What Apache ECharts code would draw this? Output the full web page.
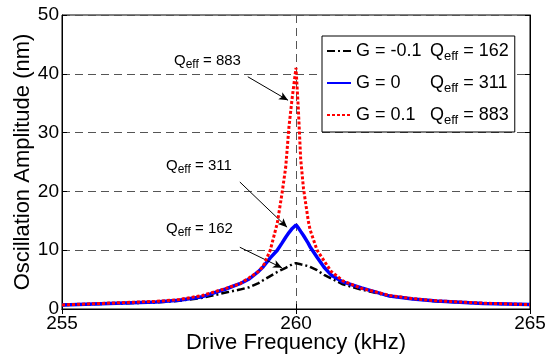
<!DOCTYPE html>
<html><head><meta charset="utf-8">
<script src="https://cdn.jsdelivr.net/npm/echarts@6/dist/echarts.min.js"></script>
<style>html,body{margin:0;padding:0;background:#fff}#c{width:546px;height:359px}</style>
</head><body><div id="c"></div>
<script>
const freq = [255, 256, 257, 257.5, 258, 258.5, 258.8, 259, 259.2, 259.3, 259.45, 259.6, 259.7, 259.78, 259.85, 259.92, 260, 260.05, 260.1, 260.16, 260.26, 260.3, 260.45, 260.6, 260.75, 261, 261.4, 262, 262.5, 263, 264, 265];
const ampNeg = [0.7, 0.9, 1.1, 1.4, 1.9, 2.8, 3.3, 3.7, 4.4, 4.9, 5.6, 6.3, 6.7, 7.0, 7.3, 7.6, 7.8, 7.7, 7.6, 7.5, 7.3, 7.2, 6.6, 5.8, 5.2, 4.2, 3.3, 2.2, 1.7, 1.3, 0.95, 0.75];
const ampZero = [0.7, 0.95, 1.2, 1.5, 2.1, 3.4, 4.3, 5.1, 6.4, 7.2, 8.7, 10.0, 11.2, 12.2, 13.0, 13.7, 14.3, 13.8, 13.2, 12.5, 11.2, 10.6, 8.8, 7.1, 5.8, 4.6, 3.6, 2.2, 1.7, 1.35, 0.95, 0.75];
const ampPos = [0.7, 1.0, 1.3, 1.6, 2.3, 3.5, 4.3, 5.3, 6.4, 7.3, 10.0, 14.6, 19.6, 24.1, 31, 36, 41, 34, 25.5, 20.5, 15.1, 13.5, 10.0, 8.2, 6.4, 4.8, 3.5, 2.3, 1.75, 1.4, 1.0, 0.75];
const seriesNames = ['G = -0.1', 'G = 0', 'G = 0.1'];
const qeff = ['162', '311', '883'];
const xTicks = [255, 260, 265];
const yTicks = [0, 10, 20, 30, 40, 50];
// annotation arrows in data coordinates: [start, end]
const arrows = [
  [[258.97, 39.5], [259.83, 35.5]],
  [[258.80, 21.6], [259.81, 13.9]],
  [[258.80, 10.5], [259.70, 7.0]]
];

const pair = a => freq.map((f, i) => [f, a[i]]);
const chart = echarts.init(document.getElementById('c'), null, {renderer: 'canvas'});
const FONT = 'Liberation Sans, Arial, sans-serif';
const richLeg = {
  g: {fontSize: 18, width: 74, fontFamily: FONT, color: '#000', lineHeight: 24},
  q: {fontSize: 18, fontFamily: FONT, color: '#000', lineHeight: 24},
  s: {fontSize: 13, fontFamily: FONT, color: '#000', lineHeight: 6, verticalAlign: 'bottom'},
  t: {fontSize: 18, fontFamily: FONT, color: '#000', lineHeight: 24}
};
const richAnn = {
  q: {fontSize: 15, fontFamily: FONT, color: '#000', lineHeight: 20},
  s: {fontSize: 12, fontFamily: FONT, color: '#000', lineHeight: 4, verticalAlign: 'bottom'},
  t: {fontSize: 15, fontFamily: FONT, color: '#000', lineHeight: 20}
};
const gridLine = {show: true, lineStyle: {color: '#555', type: [8, 5], width: 1}};
chart.setOption({
  animation: false,
  backgroundColor: '#fff',
  grid: {left: 62, top: 15, right: 16, bottom: 50, show: true, borderColor: '#000', borderWidth: 1,
    containLabel: false, outerBoundsMode: 'none'},
  legend: {
    orient: 'vertical', left: 322, top: 36,
    padding: [6, 6, 5, 4], itemGap: 11, itemWidth: 24, itemHeight: 14,
    borderColor: '#000', borderWidth: 1, backgroundColor: '#fff',
    itemStyle: {opacity: 0},
    data: seriesNames,
    formatter: function (name) {
      const i = seriesNames.indexOf(name);
      return '{g|' + name + '}{q|Q}{s|eff}{t| = ' + qeff[i] + '}';
    },
    textStyle: {rich: richLeg, padding: [0, 0, 0, 0]}
  },
  xAxis: [{
    type: 'value', min: 255, max: 265, interval: 5,
    name: 'Drive Frequency (kHz)', nameLocation: 'middle', nameGap: 23, nameMoveOverlap: false,
    nameTextStyle: {fontSize: 22, fontFamily: FONT, color: '#000'},
    axisLine: {show: true, lineStyle: {color: '#000', width: 1}},
    axisTick: {show: true, inside: true, length: 5, lineStyle: {color: '#000'}},
    axisLabel: {fontSize: 19, fontFamily: FONT, color: '#000', margin: 5,
      formatter: v => xTicks.includes(v) ? String(v) : ''},
    splitLine: gridLine
  }, {
    type: 'value', min: 255, max: 265, interval: 5, position: 'top',
    axisLine: {show: true, lineStyle: {color: '#000'}},
    axisTick: {show: true, inside: true, length: 5, lineStyle: {color: '#000'}},
    axisLabel: {show: false}, splitLine: {show: false}
  }],
  yAxis: [{
    type: 'value', min: 0, max: 50, interval: 10,
    name: 'Oscillation Amplitude (nm)', nameLocation: 'middle', nameGap: 28, nameMoveOverlap: false,
    nameTextStyle: {fontSize: 22, fontFamily: FONT, color: '#000'},
    axisLine: {show: true, lineStyle: {color: '#000', width: 1}},
    axisTick: {show: true, inside: true, length: 5, lineStyle: {color: '#000'}},
    axisLabel: {fontSize: 19, fontFamily: FONT, color: '#000', margin: 3,
      formatter: v => yTicks.includes(v) ? String(v) : ''},
    splitLine: gridLine
  }, {
    type: 'value', min: 0, max: 50, interval: 10, position: 'right',
    axisLine: {show: true, lineStyle: {color: '#000'}},
    axisTick: {show: true, inside: true, length: 5, lineStyle: {color: '#000'}},
    axisLabel: {show: false}, splitLine: {show: false}
  }],
  series: [{
    name: seriesNames[0], type: 'line', data: pair(ampNeg), symbol: 'none', z: 3,
    lineStyle: {color: '#000', width: 2.5, type: [8, 3, 2, 3]}, itemStyle: {color: '#000'}
  }, {
    name: seriesNames[1], type: 'line', data: pair(ampZero), symbol: 'none', z: 4,
    lineStyle: {color: '#0000ff', width: 3.5, type: 'solid'}, itemStyle: {color: '#0000ff'}
  }, {
    name: seriesNames[2], type: 'line', data: pair(ampPos), symbol: 'none', z: 5,
    lineStyle: {color: '#ff0000', width: 3, type: [3, 2]}, itemStyle: {color: '#ff0000'},
    markLine: {
      silent: true, animation: false, symbol: ['none', 'arrow'], symbolSize: [6, 9],
      label: {show: false},
      lineStyle: {color: '#000', width: 1, type: 'solid'},
      data: arrows.map(a => [{coord: a[0]}, {coord: a[1]}])
    }
  }],
  graphic: [
    {type: 'text', left: 174, top: 53, z: 10, style: {text: '{q|Q}{s|eff}{t| = ' + qeff[2] + '}', rich: richAnn}},
    {type: 'text', left: 166, top: 158, z: 10, style: {text: '{q|Q}{s|eff}{t| = ' + qeff[1] + '}', rich: richAnn}},
    {type: 'text', left: 166, top: 221, z: 10, style: {text: '{q|Q}{s|eff}{t| = ' + qeff[0] + '}', rich: richAnn}}
  ]
});
</script></body></html>
